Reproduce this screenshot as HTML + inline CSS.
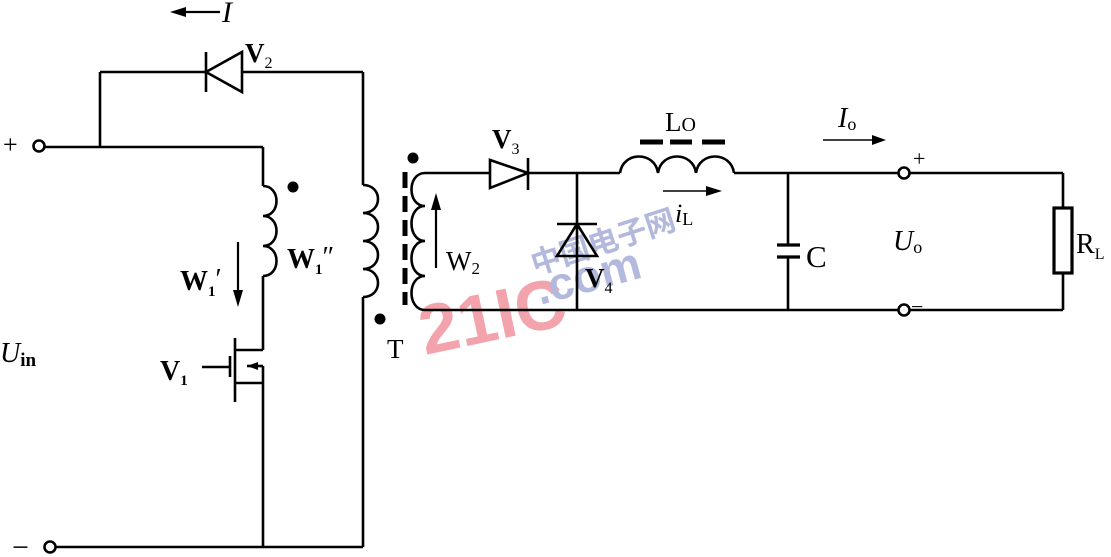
<!DOCTYPE html>
<html><head><meta charset="utf-8"><style>
html,body{margin:0;padding:0;background:#fff;}
svg{display:block;}
text{font-family:"Liberation Serif",serif;fill:#000;}
text.wm{font-family:"Liberation Sans",sans-serif;font-weight:bold;}
text.cjk{font-family:"Liberation Sans","Noto Sans CJK SC",sans-serif;font-weight:bold;}
</style></head><body>
<svg width="1111" height="557" viewBox="0 0 1111 557" xmlns="http://www.w3.org/2000/svg">
<text class="wm" x="425" y="355" font-size="70" style="fill:#f2a3ab" transform="rotate(-12 425 355)">21IC</text>
<text class="wm" x="540" y="305" font-size="46" style="fill:#b3b8dd" transform="rotate(-15 540 305)">.com</text>
<text class="cjk" x="535" y="275" font-size="30" style="fill:#b3b8dd" transform="rotate(-18 535 275)">中国电子网</text>
<g stroke="#000" stroke-width="2.6" fill="none">
<circle cx="39" cy="146" r="5.5"/>
<line x1="45" y1="147" x2="263" y2="147"/>
<line x1="100" y1="147" x2="100" y2="72"/>
<line x1="100" y1="72" x2="206" y2="72"/>
<line x1="242" y1="72" x2="363" y2="72"/>
<line x1="206" y1="52" x2="206" y2="92"/>
<polygon points="206,72 242,52 242,92"/>
<line x1="263" y1="147" x2="263" y2="186"/>
<path d="M263,186 c18,0 18,30 0,30 c18,0 18,30 0,30 c18,0 18,30 0,30 "/>
<line x1="263" y1="276" x2="263" y2="350"/>
<line x1="263" y1="350" x2="235" y2="350"/>
<line x1="235" y1="338" x2="235" y2="402"/>
<line x1="202" y1="367" x2="230" y2="367"/>
<line x1="230" y1="356" x2="230" y2="377"/>
<line x1="247" y1="366" x2="263" y2="366"/>
<line x1="235" y1="383" x2="263" y2="383"/>
<line x1="263" y1="366" x2="263" y2="547"/>
<line x1="363" y1="72" x2="363" y2="185"/>
<path d="M363,185 c20,0 20,28 0,28 c20,0 20,28 0,28 c20,0 20,28 0,28 c20,0 20,28 0,28"/>
<line x1="363" y1="297" x2="363" y2="547"/>
<circle cx="50" cy="547" r="5.5"/>
<line x1="56" y1="547" x2="363" y2="547"/>
<path d="M425,173 c-18,0 -18,33 0,33 c-18,0 -18,35 0,35 c-18,0 -18,35 0,35 c-18,0 -18,34 0,34"/>
<line x1="425" y1="173" x2="490" y2="173"/>
<line x1="425" y1="310" x2="898" y2="310"/>
<polygon points="490,160 490,188 528,173"/>
<line x1="528" y1="158" x2="528" y2="190"/>
<line x1="528" y1="173" x2="620" y2="173"/>
<line x1="577" y1="173" x2="577" y2="310"/>
<polygon points="577,224 557,256 597,256"/>
<line x1="557" y1="224" x2="597" y2="224"/>
<path d="M620,173 c3,-22 35,-22 38,0 c3,-22 35,-22 38,0 c3,-22 35,-22 38,0"/>
<line x1="734" y1="173" x2="898" y2="173"/>
<line x1="788" y1="173" x2="788" y2="245"/>
<line x1="788" y1="257" x2="788" y2="310"/>
<line x1="777" y1="245" x2="800" y2="245" stroke-width="3.2"/>
<line x1="777" y1="257" x2="800" y2="257" stroke-width="3.2"/>
<circle cx="904" cy="173" r="5.5"/>
<circle cx="904" cy="310" r="5.5"/>
<line x1="910" y1="173" x2="1063" y2="173"/>
<line x1="910" y1="310" x2="1063" y2="310"/>
<line x1="1063" y1="173" x2="1063" y2="208"/>
<line x1="1063" y1="273" x2="1063" y2="310"/>
<rect x="1054" y="208" width="18" height="65" stroke-width="3.2"/>
</g>
<g stroke="#000" stroke-width="5">
<line x1="405" y1="172" x2="405" y2="305" stroke-dasharray="16,8"/>
<line x1="640" y1="142" x2="663" y2="142"/>
<line x1="670" y1="142" x2="692" y2="142"/>
<line x1="702" y1="142" x2="725" y2="142"/>
</g>
<g fill="#000">
<circle cx="293" cy="187" r="5.5"/>
<circle cx="413" cy="158" r="5.5"/>
<circle cx="380" cy="319" r="5.5"/>
</g>
<g stroke="#000" stroke-width="2.2">
<line x1="185" y1="12" x2="220" y2="12"/>
<line x1="238" y1="242" x2="238" y2="295"/>
<line x1="436" y1="205" x2="436" y2="268"/>
<line x1="663" y1="191" x2="710" y2="191" stroke-width="1.6"/>
<line x1="823" y1="140" x2="875" y2="140" stroke-width="1.6"/>
</g>
<g fill="#000">
<polygon points="170,12 186,7 186,17"/>
<polygon points="238,307 233,290 243,290"/>
<polygon points="436,193 431,210 441,210"/>
<polygon points="722,191 706,186 706,196"/>
<polygon points="886,140 872,135 872,145"/>
<polygon points="247,366 258,362 258,370"/>
</g>
<text x="3" y="153" font-size="26">+</text>
<text x="12" y="557" font-size="30">−</text>
<text x="222" y="22" font-size="30" font-style="italic">I</text>
<text x="245" y="62" font-size="27" font-weight="bold">V<tspan font-size="16" font-weight="normal" dy="6">2</tspan></text>
<text x="0" y="362" font-size="28" font-style="italic">U<tspan font-size="19" font-style="normal" font-weight="bold" dy="4">in</tspan></text>
<text x="180" y="290" font-size="28" font-weight="bold">W<tspan font-size="15" dy="6">1</tspan><tspan font-weight="normal" dy="-8">′</tspan></text>
<text x="287" y="268" font-size="28" font-weight="bold">W<tspan font-size="15" dy="6">1</tspan><tspan font-weight="normal" dy="-8">″</tspan></text>
<text x="160" y="380" font-size="28" font-weight="bold">V<tspan font-size="15" dy="5">1</tspan></text>
<text x="387" y="358" font-size="27">T</text>
<text x="446" y="270" font-size="27">W<tspan font-size="17" dy="4">2</tspan></text>
<text x="492" y="148" font-size="27" font-weight="bold">V<tspan font-size="16" font-weight="normal" dy="6">3</tspan></text>
<text x="585" y="287" font-size="27" font-weight="bold">V<tspan font-size="16" font-weight="normal" dy="6">4</tspan></text>
<text x="665" y="131" font-size="27">L<tspan font-size="20">O</tspan></text>
<text x="675" y="222" font-size="26" font-style="italic">i<tspan font-size="18" font-style="normal" dy="3">L</tspan></text>
<text x="838" y="127" font-size="28" font-style="italic">I<tspan font-size="18" font-style="normal" dy="3">o</tspan></text>
<text x="913" y="166" font-size="22">+</text>
<text x="911" y="314" font-size="22">−</text>
<text x="806" y="267" font-size="31">C</text>
<text x="893" y="250" font-size="28" font-style="italic">U<tspan font-size="18" font-style="normal" dy="3">o</tspan></text>
<text x="1076" y="253" font-size="28">R<tspan font-size="16" dy="6">L</tspan></text>
</svg>
</body></html>
